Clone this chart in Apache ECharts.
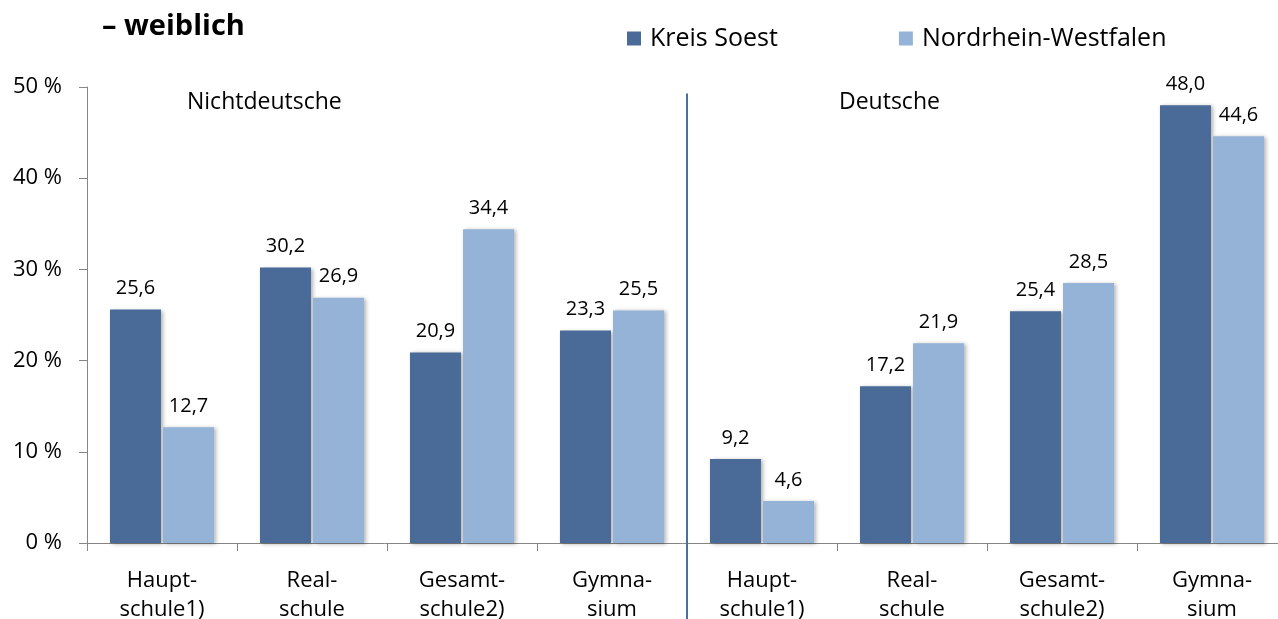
<!DOCTYPE html>
<html>
<head>
<meta charset="utf-8">
<script src="https://cdn.jsdelivr.net/npm/echarts@6/dist/echarts.min.js"></script>
<style>
  html, body { margin: 0; padding: 0; background: #fff; }
  #chart { width: 1278px; height: 619px; }
</style>
</head>
<body>
<div id="chart"></div>
<script>
  // Schulformen (Nichtdeutsche 4x, Deutsche 4x)
  var categories = ['Haupt-\nschule1)', 'Real-\nschule', 'Gesamt-\nschule2)', 'Gymna-\nsium',
                    'Haupt-\nschule1)', 'Real-\nschule', 'Gesamt-\nschule2)', 'Gymna-\nsium'];
  var kreisSoest = [25.6, 30.2, 20.9, 23.3, 9.2, 17.2, 25.4, 48.0];
  var nrw = [12.7, 26.9, 34.4, 25.5, 4.6, 21.9, 28.5, 44.6];
  var seriesNames = ['Kreis Soest', 'Nordrhein-Westfalen'];
  var groupNames = ['Nichtdeutsche', 'Deutsche'];
  var yTicks = [0, 10, 20, 30, 40, 50];

  var font = '"Open Sans", "Noto Sans", sans-serif';
  var chart = echarts.init(document.getElementById('chart'));

  function fmt(p) {
    return p.value.toFixed(1).replace('.', ',');
  }

  var barLabel = {
    show: true,
    position: 'top',
    distance: 11,
    formatter: fmt,
    color: '#000',
    fontFamily: font,
    fontSize: 20
  };
  var shadow = {
    shadowBlur: 4,
    shadowColor: 'rgba(0,0,0,0.3)',
    shadowOffsetX: 2,
    shadowOffsetY: 1
  };

  var option = {
    animation: false,
    title: [
      { text: '– weiblich', left: 97, top: 7,
        textStyle: { fontFamily: font, fontSize: 29, fontWeight: 'bold', color: '#000' } },
      { text: groupNames[0], left: 182, top: 86,
        textStyle: { fontFamily: font, fontSize: 23, fontWeight: 'normal', color: '#000' } },
      { text: groupNames[1], left: 834, top: 86,
        textStyle: { fontFamily: font, fontSize: 23, fontWeight: 'normal', color: '#000' } }
    ],
    legend: {
      data: seriesNames,
      left: 622,
      top: 21,
      itemWidth: 14,
      itemHeight: 14,
      itemGap: 121,
      icon: 'rect',
      textStyle: { fontFamily: font, fontSize: 25, color: '#000', padding: [0, 0, 0, 4] }
    },
    grid: { left: 87, right: -9, top: 87, bottom: 76, outerBoundsMode: 'none', containLabel: false },
    xAxis: [{
      type: 'category',
      data: categories,
      axisLine: { lineStyle: { color: '#868686', width: 1 } },
      axisTick: { show: true, length: 8, lineStyle: { color: '#868686' } },
      axisLabel: {
        color: '#000', fontFamily: font, fontSize: 22, lineHeight: 29, margin: 23, interval: 0
      }
    }, {
      type: 'value',
      min: 0,
      max: categories.length,
      show: false
    }],
    yAxis: {
      type: 'value',
      min: yTicks[0],
      max: yTicks[yTicks.length - 1],
      interval: 10,
      axisLine: { show: true, lineStyle: { color: '#868686' } },
      axisTick: { show: true, length: 8, lineStyle: { color: '#868686' } },
      splitLine: { show: false },
      axisLabel: {
        formatter: '{value} %', color: '#000', fontFamily: font, fontSize: 22, margin: 25
      }
    },
    series: [{
      name: seriesNames[0],
      type: 'bar',
      data: kreisSoest,
      barWidth: 51,
      barGap: '4%',
      itemStyle: Object.assign({ color: '#4A6A97' }, shadow),
      label: barLabel
    }, {
      name: seriesNames[1],
      type: 'bar',
      data: nrw,
      barWidth: 51,
      itemStyle: Object.assign({ color: '#95B3D7' }, shadow),
      label: barLabel
    }, {
      // Trennlinie zwischen Nichtdeutsche und Deutsche
      type: 'custom',
      xAxisIndex: 1,
      clip: false,
      silent: true,
      data: [[categories.length / 2]],
      renderItem: function (params, api) {
        var top = api.coord([api.value(0), 49.3]);
        var cs = params.coordSys;
        return {
          type: 'line',
          shape: { x1: top[0], y1: top[1], x2: top[0], y2: cs.y + cs.height + 80 },
          style: { stroke: '#4A6FA0', lineWidth: 2 }
        };
      }
    }]
  };

  chart.setOption(option);
</script>
</body>
</html>
